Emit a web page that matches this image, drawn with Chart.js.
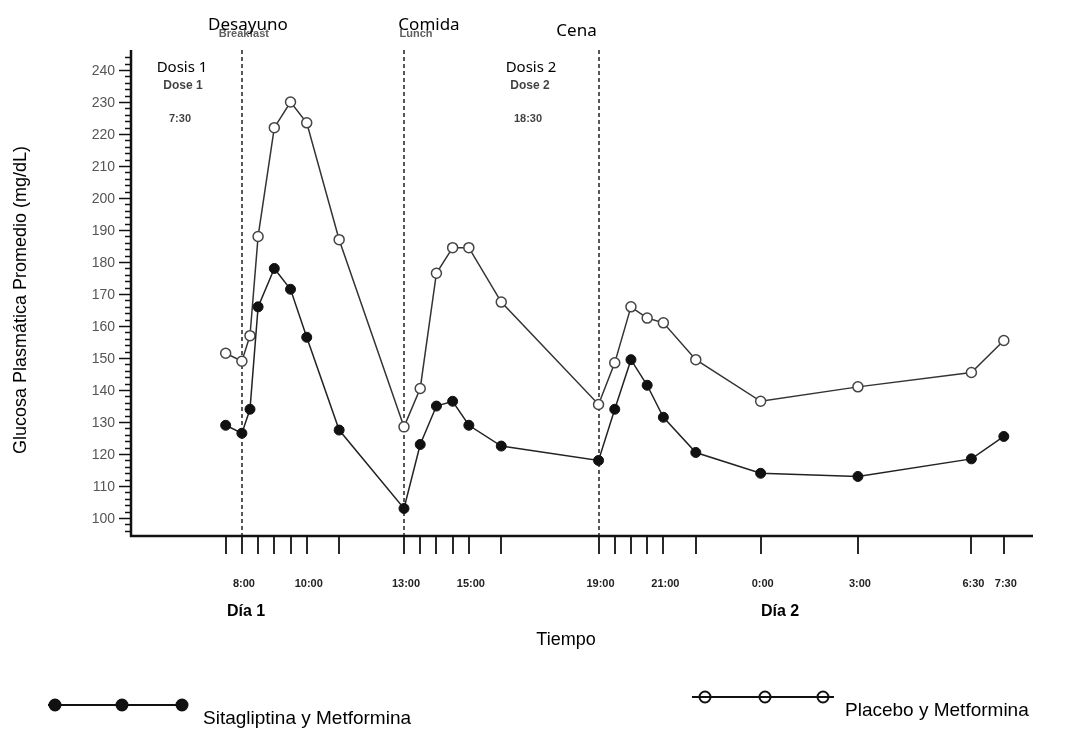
<!DOCTYPE html>
<html lang="es">
<head>
<meta charset="UTF-8">
<title>Glucosa plasmática</title>
<script src="https://cdn.jsdelivr.net/npm/chart.js"></script>
<style>
  body { margin: 0; background: #fff; }
  #wrap { width: 1078px; height: 731px; }
</style>
</head>
<body>
<div id="wrap"><canvas id="chart" width="1078" height="731"></canvas></div>
<script>
// sampling times, hours from midnight of day 1 (24 = 0:00 day 2)
const hours = [7.5, 8, 8.25, 8.5, 9, 9.5, 10, 11, 13, 13.5, 14, 14.5, 15, 16, 19, 19.5, 20, 20.5, 21, 22, 24, 27, 30.5, 31.5];
const sitaValues = [129, 126.5, 134, 166, 178, 171.5, 156.5, 127.5, 103, 123, 135, 136.5, 129, 122.5, 118, 134, 149.5, 141.5, 131.5, 120.5, 114, 113, 118.5, 125.5];
const placeboValues = [151.5, 149, 157, 188, 222, 230, 223.5, 187, 128.5, 140.5, 176.5, 184.5, 184.5, 167.5, 135.5, 148.5, 166, 162.5, 161, 149.5, 136.5, 141, 145.5, 155.5];

const yTicks = [100, 110, 120, 130, 140, 150, 160, 170, 180, 190, 200, 210, 220, 230, 240];
const xTickHours = [7.5, 8, 8.5, 9, 9.5, 10, 11, 13, 13.5, 14, 14.5, 15, 16, 19, 19.5, 20, 20.5, 21, 22, 24, 27, 30.5, 31.5];
const xLabelHours = [8, 10, 13, 15, 19, 21, 24, 27, 30.5, 31.5];
const xLabels = ['8:00', '10:00', '13:00', '15:00', '19:00', '21:00', '0:00', '3:00', '6:30', '7:30'];
const mealHours = [8, 13, 19];
const mealLabels = ['Desayuno', 'Comida', 'Cena'];
const seriesNames = ['Sitagliptina y Metformina', 'Placebo y Metformina'];

function pts(vals) {
    return hours.map((h, i) => ({ x: h, y: vals[i] }));
}

const decor = {
    id: 'decor',
    beforeDatasetsDraw(chart) {
        const ctx = chart.ctx;
        const x = chart.scales.x;
        const area = chart.chartArea;
        ctx.save();
        // meal lines
        ctx.strokeStyle = '#222';
        ctx.lineWidth = 1.5;
        ctx.setLineDash([4, 3]);
        mealHours.forEach(h => {
            const px = Math.round(x.getPixelForValue(h));
            ctx.beginPath();
            ctx.moveTo(px, 50);
            ctx.lineTo(px, area.bottom);
            ctx.stroke();
        });
        ctx.setLineDash([]);
        ctx.restore();
    },
    afterDraw(chart) {
        const ctx = chart.ctx;
        const x = chart.scales.x, y = chart.scales.y;
        const area = chart.chartArea;
        ctx.save();
        ctx.strokeStyle = '#111';
        ctx.fillStyle = '#111';

        // axes
        ctx.lineWidth = 2.5;
        ctx.beginPath();
        ctx.moveTo(area.left, 50);
        ctx.lineTo(area.left, area.bottom);
        ctx.lineTo(area.right, area.bottom);
        ctx.stroke();

        // y ticks
        ctx.lineWidth = 1.5;
        for (let v = 96; v <= 244; v += 2) {
            const py = Math.round(y.getPixelForValue(v)) + 0.5;
            const major = yTicks.includes(v);
            ctx.beginPath();
            ctx.moveTo(area.left - (major ? 12 : 6), py);
            ctx.lineTo(area.left, py);
            ctx.stroke();
        }
        ctx.fillStyle = '#555';
        ctx.font = '14px "Liberation Sans", Arial, sans-serif';
        ctx.textAlign = 'right';
        ctx.textBaseline = 'middle';
        yTicks.forEach(v => {
            ctx.fillText(String(v), area.left - 16, y.getPixelForValue(v) + 1);
        });

        // x ticks
        ctx.strokeStyle = '#111';
        ctx.lineWidth = 1.8;
        xTickHours.forEach(h => {
            const px = Math.round(x.getPixelForValue(h));
            ctx.beginPath();
            ctx.moveTo(px, area.bottom);
            ctx.lineTo(px, area.bottom + 18);
            ctx.stroke();
        });
        ctx.fillStyle = '#222';
        ctx.font = 'bold 11px "Liberation Sans", Arial, sans-serif';
        ctx.textAlign = 'center';
        xLabelHours.forEach((h, i) => {
            ctx.fillText(xLabels[i], x.getPixelForValue(h) + 2, 584);
        });

        // meal labels
        ctx.fillStyle = 'rgba(40,40,40,0.75)';
        ctx.font = 'bold 11px "Liberation Sans", Arial, sans-serif';
        ctx.fillText('Breakfast', x.getPixelForValue(8) + 2, 34);
        ctx.fillText('Lunch', x.getPixelForValue(13) + 12, 34);
        ctx.fillStyle = '#000';
        ctx.font = '17px "Noto Sans", "Open Sans", sans-serif';
        const mealOffsets = [6, 25, -22];
        const mealY = [25, 25, 31];
        mealHours.forEach((h, i) => {
            ctx.fillText(mealLabels[i], x.getPixelForValue(h) + mealOffsets[i], mealY[i]);
        });

        // dose annotations
        ctx.font = '15px "Noto Sans", "Open Sans", sans-serif';
        ctx.fillText('Dosis 1', 182, 68);
        ctx.fillText('Dosis 2', 531, 68);
        ctx.fillStyle = 'rgba(30,30,30,0.85)';
        ctx.font = 'bold 12px "Liberation Sans", Arial, sans-serif';
        ctx.fillText('Dose 1', 183, 86);
        ctx.fillText('Dose 2', 530, 86);
        ctx.font = 'bold 11px "Liberation Sans", Arial, sans-serif';
        ctx.fillText('7:30', 180, 119);
        ctx.fillText('18:30', 528, 119);

        // day labels and axis titles
        ctx.fillStyle = '#000';
        ctx.font = 'bold 16px "Liberation Sans", Arial, sans-serif';
        ctx.fillText('Día 1', 246, 612);
        ctx.fillText('Día 2', 780, 612);
        ctx.font = '18px "Liberation Sans", Arial, sans-serif';
        ctx.fillText('Tiempo', 566, 640);
        ctx.save();
        ctx.translate(21, 300);
        ctx.rotate(-Math.PI / 2);
        ctx.fillText('Glucosa Plasmática Promedio (mg/dL)', 0, 0);
        ctx.restore();

        // legend
        const legends = [
            { x0: 48, x1: 188, yLine: 705, dots: [55, 122, 182], text: 203, ty: 719, ds: 0 },
            { x0: 692, x1: 834, yLine: 697, dots: [705, 765, 823], text: 845, ty: 711, ds: 1 }
        ];
        legends.forEach(l => {
            const ds = chart.data.datasets[l.ds];
            l.dots.forEach(dx => {
                ctx.beginPath();
                ctx.arc(dx, l.yLine, 5.5, 0, Math.PI * 2);
                ctx.fillStyle = ds.pointBackgroundColor;
                ctx.fill();
                ctx.lineWidth = 2;
                ctx.strokeStyle = '#111';
                ctx.stroke();
            });
            ctx.strokeStyle = '#111';
            ctx.lineWidth = 2;
            ctx.beginPath();
            ctx.moveTo(l.x0, l.yLine);
            ctx.lineTo(l.x1, l.yLine);
            ctx.stroke();
            ctx.fillStyle = '#000';
            ctx.font = '19px "Liberation Sans", Arial, sans-serif';
            ctx.textAlign = 'left';
            ctx.fillText(seriesNames[l.ds], l.text, l.ty);
        });
        ctx.restore();
    }
};

new Chart(document.getElementById('chart'), {
    type: 'line',
    data: {
        datasets: [
            {
                label: seriesNames[0],
                data: pts(sitaValues),
                borderColor: '#222',
                borderWidth: 1.5,
                pointRadius: 5,
                pointBackgroundColor: '#111',
                pointBorderColor: '#111',
                pointBorderWidth: 1,
                tension: 0
            },
            {
                label: seriesNames[1],
                data: pts(placeboValues),
                borderColor: '#333',
                borderWidth: 1.5,
                pointRadius: 5,
                pointBackgroundColor: '#fff',
                pointBorderColor: '#444',
                pointBorderWidth: 1.5,
                tension: 0
            }
        ]
    },
    options: {
        responsive: false,
        animation: false,
        devicePixelRatio: 1,
        layout: { padding: { left: 131, right: 45, top: 55, bottom: 195 } },
        plugins: { legend: { display: false }, tooltip: { enabled: false } },
        scales: {
            x: { type: 'linear', min: 4.58, max: 32.4, display: false },
            y: { type: 'linear', min: 94.4, max: 244.7, display: false }
        }
    },
    plugins: [decor]
});
</script>
</body>
</html>
